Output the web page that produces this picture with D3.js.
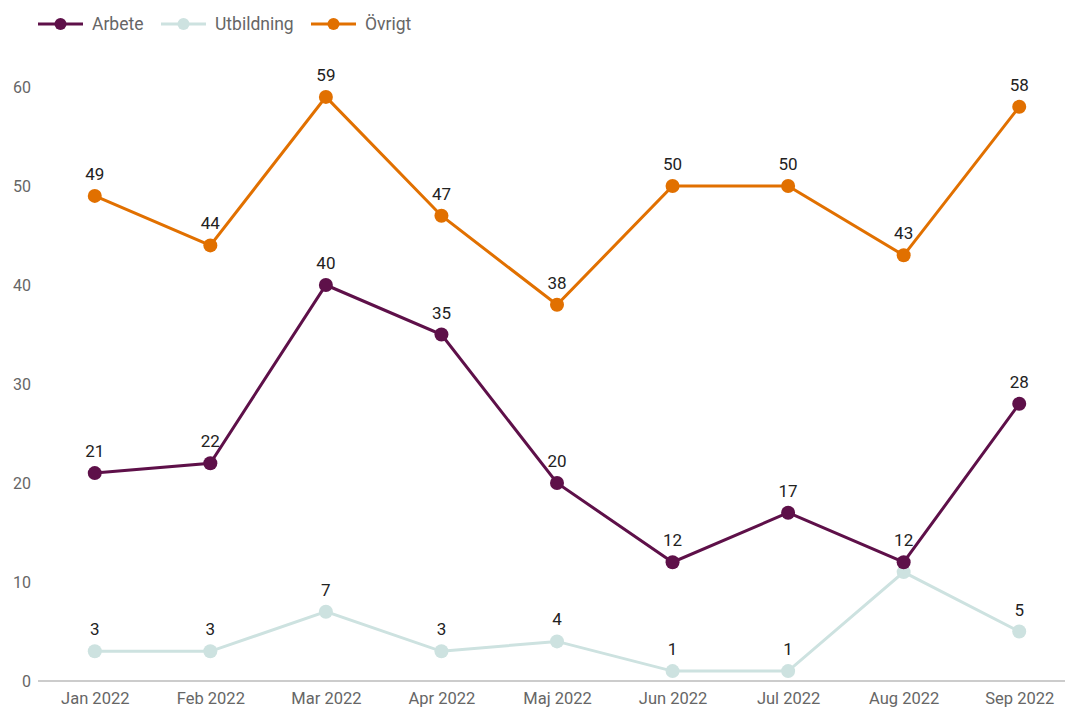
<!DOCTYPE html>
<html>
<head>
<meta charset="utf-8">
<script src="https://cdn.jsdelivr.net/npm/d3@7"></script>
<style>
  body { margin: 0; background: #fff; }
  svg { display: block; font-family: Roboto, sans-serif; }
</style>
</head>
<body>
<svg id="chart" width="1065" height="709"></svg>
<script>
var months = ['Jan 2022', 'Feb 2022', 'Mar 2022', 'Apr 2022', 'Maj 2022', 'Jun 2022', 'Jul 2022', 'Aug 2022', 'Sep 2022'];
var arbete = [21, 22, 40, 35, 20, 12, 17, 12, 28];
var utbildning = [3, 3, 7, 3, 4, 1, 1, 11, 5];
var ovrigt = [49, 44, 59, 47, 38, 50, 50, 43, 58];
var yTicks = [0, 10, 20, 30, 40, 50, 60];
// label hidden where it would collide with another one
var hideLabel = { utbildning: [7] };

var series = [
  { key: 'arbete', name: 'Arbete', values: arbete, color: '#5e1049' },
  { key: 'utbildning', name: 'Utbildning', values: utbildning, color: '#cde2e0' },
  { key: 'ovrigt', name: 'Övrigt', values: ovrigt, color: '#e17000' }
];

var svg = d3.select('#chart');
var x = d3.scalePoint().domain(months).range([37, 1077]).padding(0.5);
var y = d3.scaleLinear().domain([0, 60]).range([681, 87]);

// y axis labels
svg.append('g').selectAll('text')
  .data(yTicks)
  .enter().append('text')
  .attr('x', 31)
  .attr('y', function (d) { return y(d); })
  .attr('dy', '0.35em')
  .attr('text-anchor', 'end')
  .attr('fill', '#666')
  .style('font-size', '16px')
  .text(function (d) { return d; });

// x axis
var xAxis = svg.append('g')
  .attr('transform', 'translate(0,' + y(0) + ')')
  .call(d3.axisBottom(x).tickSize(0).tickPadding(11));
xAxis.select('.domain').attr('d', 'M38,0H1065').attr('stroke', '#bbb').attr('stroke-width', 1.5);
xAxis.selectAll('text').attr('fill', '#666').style('font-size', '16.5px').style('font-family', 'Roboto, sans-serif');

var line = d3.line()
  .x(function (d, i) { return x(months[i]); })
  .y(function (d) { return y(d); });

// draw the lighter series first so darker ones sit on top
var order = [series[1], series[2], series[0]];
order.forEach(function (s) {
  var g = svg.append('g');
  g.append('path')
    .datum(s.values)
    .attr('d', line)
    .attr('fill', 'none')
    .attr('stroke', s.color)
    .attr('stroke-width', 3);
  g.selectAll('circle')
    .data(s.values)
    .enter().append('circle')
    .attr('cx', function (d, i) { return x(months[i]); })
    .attr('cy', function (d) { return y(d); })
    .attr('r', 7)
    .attr('fill', s.color);
});

series.forEach(function (s) {
  var hidden = hideLabel[s.key] || [];
  var pts = s.values
    .map(function (v, i) { return { month: months[i], value: v, i: i }; })
    .filter(function (p) { return hidden.indexOf(p.i) < 0; });
  svg.append('g').selectAll('text')
    .data(pts)
    .enter().append('text')
    .attr('x', function (p) { return x(p.month); })
    .attr('y', function (p) { return y(p.value) - 16; })
    .attr('text-anchor', 'middle')
    .attr('fill', '#222')
    .style('font-size', '17px')
    .text(function (p) { return p.value; });
});

// legend
var legendX = [38, 161, 311];
series.forEach(function (s, i) {
  var lg = svg.append('g').attr('transform', 'translate(' + legendX[i] + ',24)');
  lg.append('line').attr('x1', 0).attr('x2', 45).attr('stroke', s.color).attr('stroke-width', 3);
  lg.append('circle').attr('cx', 22.5).attr('r', 6).attr('fill', s.color);
  lg.append('text').attr('x', 54).attr('dy', '0.35em')
    .attr('fill', '#666').style('font-size', '17.5px').text(s.name);
});
</script>
</body>
</html>
